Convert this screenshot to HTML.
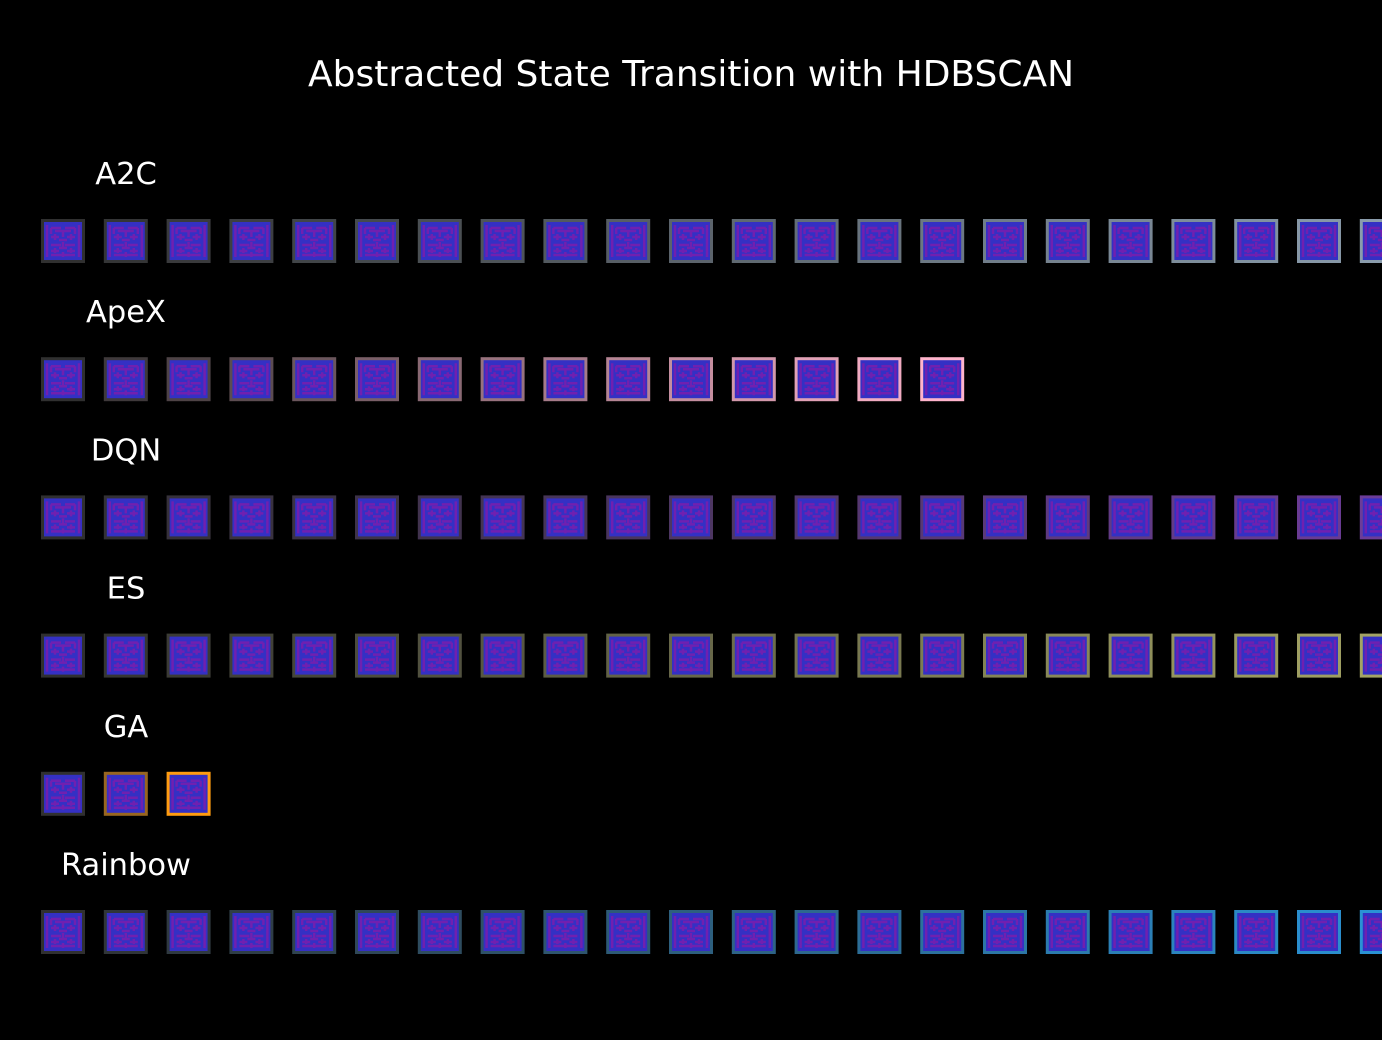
<!DOCTYPE html>
<html><head><meta charset="utf-8"><style>
body{margin:0;background:#000;width:1382px;height:1036px;overflow:hidden;font-family:"DejaVu Sans","Liberation Sans",sans-serif}
</style></head><body>
<svg id="c" width="1382" height="1036" xmlns="http://www.w3.org/2000/svg">
<text x="691" y="86" fill="#fff" font-size="36" text-anchor="middle">Abstracted State Transition with HDBSCAN</text>
<g id="rows"></g>
</svg>
<script>
const algorithms=["A2C","ApeX","DQN","ES","GA","Rainbow"];
const stateCounts=[22,15,22,22,3,22];
const endColors=["#8a9cac","#ffb4cc","#6c3c98","#a4a464","#ff9c10","#2a92d4"];
const startColor=[48,48,48];
const MAZE="M3 3V35M35 3V35M7 6H17M21 6H31M7 6V12M31 6V12M11 9H27M19 9V15M11 12V18M27 12V18M7 15H15M23 15H31M15 18H23M7 23H17M21 23H31M19 20V27M11 26V31M27 26V31M7 29H15M23 29H31M7 33H31M19 30V35M15 26H23";
function hex(h){return [1,3,5].map(i=>parseInt(h.substr(i,2),16));}
const g=document.getElementById('rows');
const NS="http://www.w3.org/2000/svg";
algorithms.forEach((name,r)=>{
  const rowY=219+r*138.2;
  const t=document.createElementNS(NS,'text');
  
  
  t.setAttribute('x',126);t.setAttribute('y',rowY-35);
  t.setAttribute('fill','#fff');t.setAttribute('font-size','30.5');t.setAttribute('text-anchor','middle');
  t.textContent=name;g.appendChild(t);
  const n=stateCounts[r],ec=hex(endColors[r]);
  for(let i=0;i<n;i++){
    const f=n>1?i/(n-1):1;
    const col=startColor.map((s,k)=>Math.round(s+(ec[k]-s)*f));
    const x=41+i*62.8;
    const tile=document.createElementNS(NS,'g');
    
    
    tile.setAttribute('transform',`translate(${x},${rowY})`);
    tile.innerHTML=`<rect x="1.5" y="1.5" width="41" height="41" fill="#3430c4" stroke="rgb(${col.join(',')})" stroke-width="3"/><path d="${MAZE}" transform="translate(3,3)" stroke="#7020b0" stroke-width="2.5" fill="none"/>`;
    g.appendChild(tile);
  }
});
</script>
</body></html>
